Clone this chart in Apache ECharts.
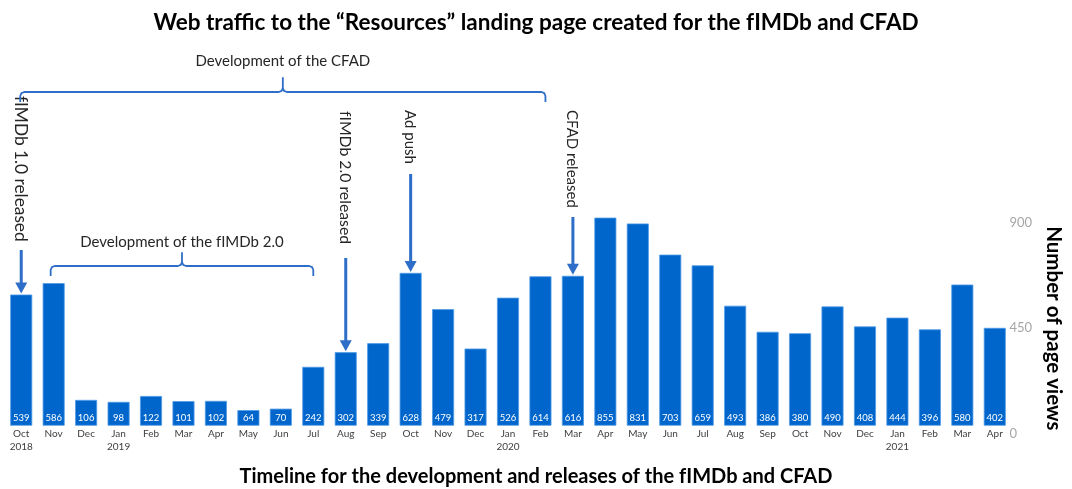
<!DOCTYPE html>
<html>
<head>
<meta charset="utf-8">
<script src="https://cdn.jsdelivr.net/npm/echarts@6/dist/echarts.min.js"></script>
<style>
html,body{margin:0;padding:0;background:#fff;}
#chart{width:1072px;height:489px;}
</style>
</head>
<body>
<div id="chart"></div>
<script>
// ---- data ----
const months = ['Oct\n2018','Nov','Dec','Jan\n2019','Feb','Mar','Apr','May','Jun','Jul','Aug','Sep','Oct','Nov','Dec','Jan\n2020','Feb','Mar','Apr','May','Jun','Jul','Aug','Sep','Oct','Nov','Dec','Jan\n2021','Feb','Mar','Apr'];
const pageViews = [539,586,106,98,122,101,102,64,70,242,302,339,628,479,317,526,614,616,855,831,703,659,493,386,380,490,408,444,396,580,402];
const axisTicks = [0, 450, 900];
const eventLabels = ['fIMDb 1.0 released', 'fIMDb 2.0 released', 'Ad push', 'CFAD released'];
const eventMonths = [0, 10, 12, 17];
const periodLabels = ['Development of the CFAD', 'Development of the fIMDb 2.0'];
const periodStart = [0, 1];
const periodEnd = [16, 9];

const chartTitle = 'Web traffic to the \u201cResources\u201d landing page created for the fIMDb and CFAD';
const xTitle = 'Timeline for the development and releases of the fIMDb and CFAD';
const yTitle = 'Number of page views';

const FONT = 'Lato';
const BLUE = '#0066cc';
const ANN = '#2f6ec8';

const chart = echarts.init(document.getElementById('chart'), null, {renderer: 'canvas'});

chart.setOption({
  animation: false,
  backgroundColor: '#ffffff',
  textStyle: {fontFamily: FONT},
  title: [
    {text: chartTitle, left: 'center', top: 6,
     textStyle: {fontFamily: FONT, fontSize: 22.5, fontWeight: 'bold', color: '#000'}},
    {text: xTitle, left: 'center', top: 462,
     textStyle: {fontFamily: FONT, fontSize: 20, fontWeight: 'bold', color: '#000'}}
  ],
  grid: [
    {left: 5, right: 61, top: 206.7, bottom: 63.3},
    {left: 5, right: 61, top: 222.6, bottom: 55}
  ],
  xAxis: [
    {type: 'category', gridIndex: 0, data: months,
     axisLine: {show: false}, axisTick: {show: false},
     axisLabel: {interval: 0, margin: 2, fontSize: 10, lineHeight: 13, color: '#404040', fontFamily: FONT}},
    {type: 'category', gridIndex: 1, data: months, show: false}
  ],
  yAxis: [
    {type: 'value', gridIndex: 0, min: axisTicks[0], max: axisTicks[axisTicks.length - 1], show: false, splitLine: {show: false}},
    {type: 'value', gridIndex: 1, position: 'right',
     min: axisTicks[0], max: axisTicks[axisTicks.length - 1], interval: axisTicks[1] - axisTicks[0],
     axisLine: {show: false}, axisTick: {show: false}, splitLine: {show: false},
     axisLabel: {color: '#a6a6a6', fontSize: 13, margin: 8, fontFamily: FONT},
     name: yTitle, nameLocation: 'middle', nameRotate: -90, nameGap: 41,
     nameTextStyle: {fontFamily: FONT, fontSize: 20.5, fontWeight: 'bold', color: '#000'}}
  ],
  series: [{
    type: 'bar', xAxisIndex: 0, yAxisIndex: 0,
    data: pageViews, barWidth: 22,
    itemStyle: {color: BLUE, borderColor: '#4f9be6', borderWidth: 0.8},
    label: {show: true, position: 'insideBottom', distance: 3, color: '#fff', fontSize: 9.5, fontFamily: FONT}
  }]
});

// ---- annotations positioned from the axes ----
function px(i, v) { return chart.convertToPixel({seriesIndex: 0}, [i, v]); }
const g = [];

// arrows + rotated labels
const textTop = [96, 111, 110, 110];
const textSize = [17.3, 15.8, 15, 15];
const shaftTop = [250, 258, 174, 217];
eventMonths.forEach((m, k) => {
  const p = px(m, pageViews[m]);
  const x = p[0];
  const tip = p[1] - 1;
  const headH = 11, headW = 6;
  g.push({type: 'text', x: x - 1, y: textTop[k], rotation: -Math.PI / 2,
    style: {text: eventLabels[k], font: textSize[k] + 'px ' + FONT, fill: '#262626', textAlign: 'left', textVerticalAlign: 'middle'}});
  g.push({type: 'line', shape: {x1: x, y1: shaftTop[k], x2: x, y2: tip - headH + 1},
    style: {stroke: ANN, lineWidth: 3}});
  g.push({type: 'polygon', shape: {points: [[x - headW, tip - headH], [x + headW, tip - headH], [x, tip]]},
    style: {fill: ANN}});
});

// braces
const braceY = [[92, 102, 78, 61], [266, 276, 253, 242]]; // line, ends, tip, text
const braceOff = [[-1, 5], [-3, 0]];
periodLabels.forEach((lab, k) => {
  const xl = px(periodStart[k], 0)[0] + braceOff[k][0];
  const xr = px(periodEnd[k], 0)[0] + braceOff[k][1];
  const xc = (xl + xr) / 2;
  const [yl, ye, yt, ytx] = braceY[k];
  const r = 4;
  const pts = [
    [xl, ye], [xl, yl + r], [xl + 1.2, yl + 1.2], [xl + r, yl],
    [xc - r, yl], [xc - 1.2, yl - 1.2], [xc, yl - r], [xc, yt],
    [xc, yl - r], [xc + 1.2, yl - 1.2], [xc + r, yl],
    [xr - r, yl], [xr - 1.2, yl + 1.2], [xr, yl + r], [xr, ye]
  ];
  g.push({type: 'polyline', shape: {points: pts},
    style: {stroke: ANN, lineWidth: 1.8, fill: null, lineJoin: 'round'}});
  g.push({type: 'text', x: xc, y: ytx,
    style: {text: lab, font: '15px ' + FONT, fill: '#262626', textAlign: 'center', textVerticalAlign: 'middle'}});
});

chart.setOption({graphic: g});
</script>
</body>
</html>
